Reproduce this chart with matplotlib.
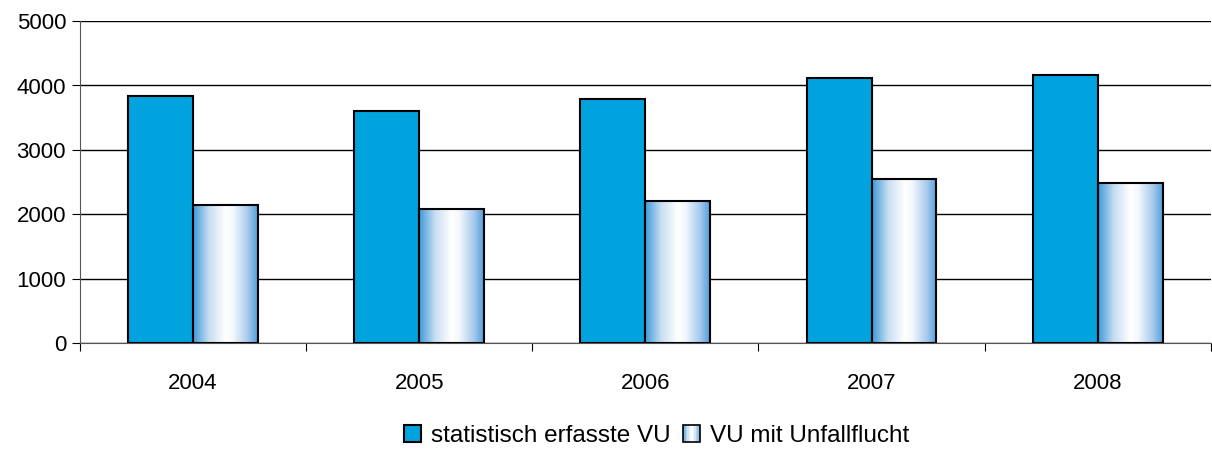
import numpy as np
import matplotlib
matplotlib.use("Agg")
from matplotlib import pyplot as plt
from matplotlib.colors import LinearSegmentedColormap
from matplotlib.patches import Rectangle
from matplotlib.legend_handler import HandlerBase

# data ####################################################################
years = ["2004", "2005", "2006", "2007", "2008"]
erfasst = [3840, 3600, 3790, 4120, 4160]
unfallflucht = [2140, 2080, 2200, 2540, 2485]
labels = ["statistisch erfasste VU", "VU mit Unfallflucht"]

plt.rcParams['font.family'] = ['Liberation Sans', 'DejaVu Sans']

blue = '#00a3dd'
grad = LinearSegmentedColormap.from_list(
    'grad', [(0, '#3d9ad8'), (0.25, '#c8def2'), (0.5, '#ffffff'),
             (0.62, '#f4f8fd'), (0.85, '#a6c9ec'), (1, '#4f9fdc')])


class GradHandler(HandlerBase):
    def create_artists(self, legend, orig, x0, y0, w, h, fs, trans):
        arts = []
        n = 12
        for i in range(n):
            arts.append(Rectangle((x0 + w * i / n, y0), w / n, h,
                                  facecolor=grad((i + 0.5) / n), lw=0,
                                  transform=trans))
        arts.append(Rectangle((x0, y0), w, h, fill=False, ec='black',
                              lw=1.2, transform=trans))
        return arts


fig = plt.figure(figsize=(12.12, 4.5), dpi=100)
ax = fig.add_axes([0.066, 0.238, 0.933, 0.715])

x = np.arange(len(years))
bw = 0.287
b1 = ax.bar(x - bw / 2, erfasst, bw, color=blue, edgecolor='black', lw=1.5,
            zorder=3, label=labels[0])
b2 = ax.bar(x + bw / 2, unfallflucht, bw, color='none', edgecolor='black',
            lw=1.5, zorder=4, label=labels[1])

#gradient fill inside the second bars
gimg = np.linspace(0, 1, 256).reshape(1, -1)
for r in b2:
    ax.imshow(gimg, cmap=grad, aspect='auto', zorder=3.5,
              extent=[r.get_x(), r.get_x() + r.get_width(), 0, r.get_height()])

ax.set_xlim(-0.5, len(years) - 0.5)
ax.set_ylim(0, 5000)
ax.set_yticks(range(0, 5001, 1000))
ax.yaxis.grid(True, color='black', lw=1)
ax.set_axisbelow(True)

ax.set_xticks(x)
ax.set_xticklabels(years)
ax.set_xticks(np.arange(-0.5, len(years)), minor=True)
ax.tick_params(axis='x', which='major', length=0, pad=22, labelsize=16)
ax.tick_params(axis='x', which='minor', length=6, width=0.8, direction='out')
ax.tick_params(axis='y', length=6, width=0.8, labelsize=16, pad=4)

for s in ['top', 'right']:
    ax.spines[s].set_visible(False)
ax.spines['left'].set_color('#555555')
ax.spines['bottom'].set_color('#555555')

ax.legend(handles=[b1, b2], labels=labels,
          handler_map={b2: GradHandler()},
          loc='center', bbox_to_anchor=(0.51, -0.29), ncol=2,
          frameon=False, fontsize=17.5, handlelength=0.7, handleheight=0.7,
          handletextpad=0.4, columnspacing=0.5)

plt.savefig("out.png")
